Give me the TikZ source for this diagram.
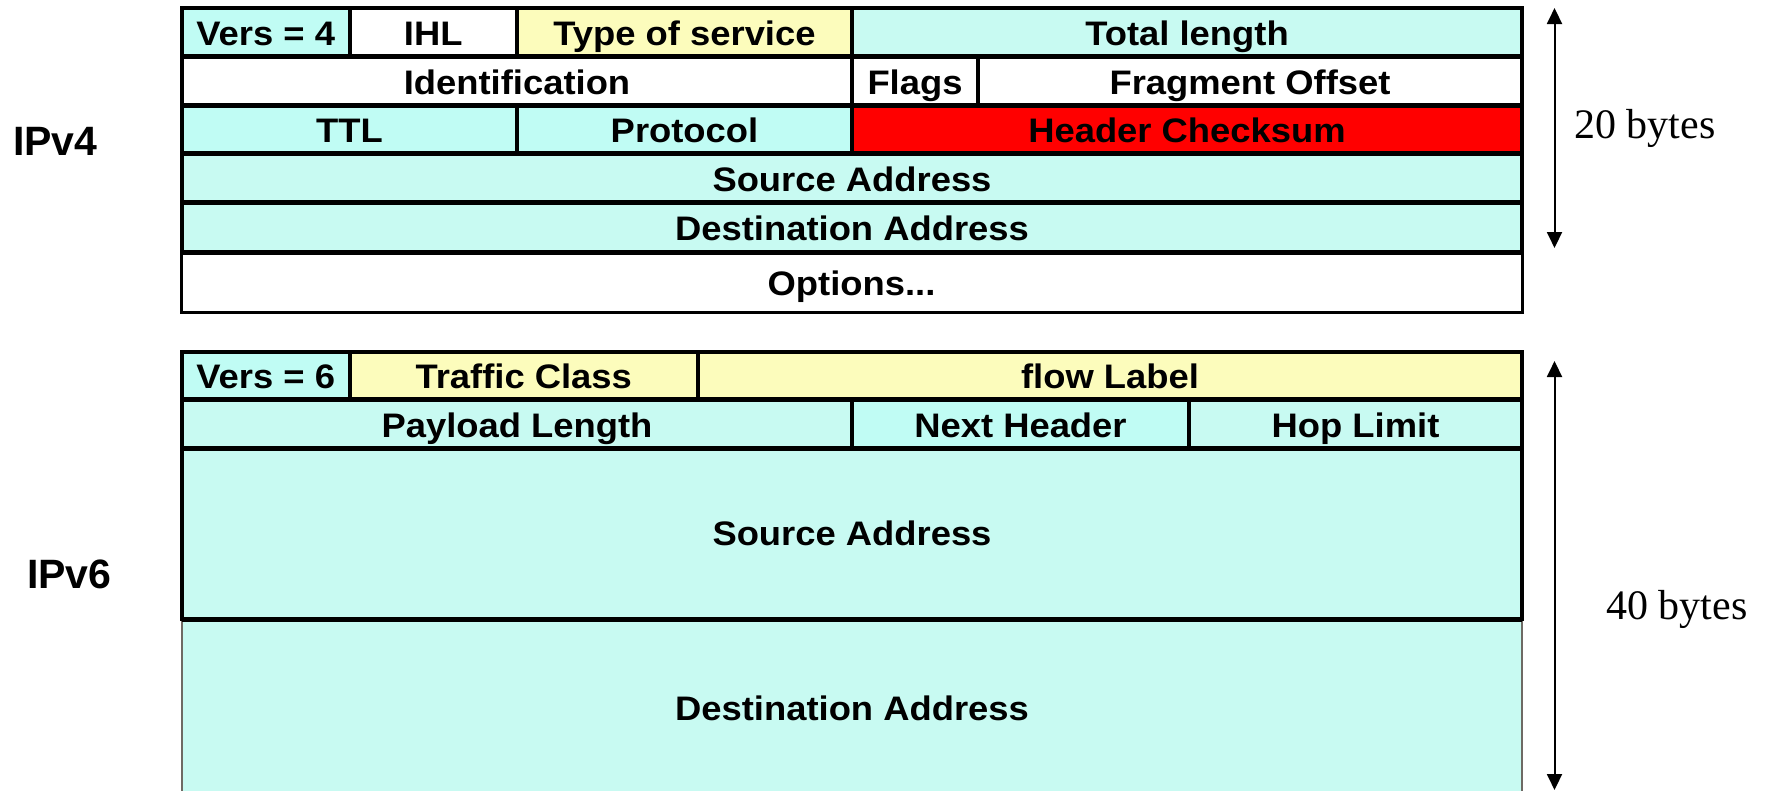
\documentclass[tikz,border=0pt]{standalone}
\usepackage{fontspec}
\setmainfont{Liberation Sans}
\newfontfamily\timesfont{Liberation Serif}
\usetikzlibrary{arrows.meta}

\definecolor{cellcyan}{HTML}{C0FCF4}
\definecolor{cellaqua}{HTML}{C8FAF2}
\definecolor{cellyellow}{HTML}{FCFCBC}
\definecolor{cellred}{HTML}{FF0000}
\definecolor{rimgray}{HTML}{6E6A64}

% header field labels are set slightly wider than the plain bold face
\newcommand\widetext[1]{\scalebox{1.07}[1]{#1}}

% \field{options}{name}{x1}{y1}{x2}{y2}{fill}{text}
\newcommand\field[8]{%
  \pgfmathsetlengthmacro\fieldw{(#5)-(#3)}%
  \pgfmathsetlengthmacro\fieldh{(#6)-(#4)}%
  \node[fieldcell,fill=#7,minimum width=\fieldw,minimum height=\fieldh,#1]
    (#2) at ({((#3)+(#5))/2},{((#4)+(#6))/2}) {\widetext{#8}};}

\begin{document}
\begin{tikzpicture}[x=1pt,y=-1pt,
  fieldcell/.style={draw=black,line width=4pt,inner sep=0pt,outer sep=0pt,
    font=\fontsize{34}{38}\selectfont\bfseries,text height=27pt,text depth=0pt},
  rowrule/.style={draw=black,line width=5pt},
  sidelabel/.style={anchor=base west,inner sep=0pt,font=\fontsize{41}{44}\selectfont\bfseries},
  sizelabel/.style={anchor=base west,inner sep=0pt,font=\timesfont\fontsize{42}{46}\selectfont},
  sizearrow/.style={{Triangle[length=16pt,width=15pt]}-{Triangle[length=16pt,width=15pt]},line width=2pt}]

\useasboundingbox (0,0) rectangle (1768,790);
\clip (0,0) rectangle (1768,790);

% ---------------- IPv4 header ----------------
\field{}{v4ver}{182}{8}{349.5}{56}{cellcyan}{Vers = 4}
\field{}{v4ihl}{349.5}{8}{517}{56}{white}{IHL}
\field{}{v4tos}{517}{8}{852}{56}{cellyellow}{Type of service}
\field{}{v4len}{852}{8}{1522}{56}{cellaqua}{Total length}

\field{}{v4id}{182}{56}{852}{105}{white}{Identification}
\field{}{v4flags}{852}{56}{978}{105}{white}{Flags}
\field{}{v4frag}{978}{56}{1522}{105}{white}{Fragment Offset}

\field{}{v4ttl}{182}{105}{517}{153.5}{cellcyan}{TTL}
\field{}{v4proto}{517}{105}{852}{153.5}{cellcyan}{Protocol}
\field{}{v4csum}{852}{105}{1522}{153.5}{cellred}{Header Checksum}

\field{}{v4src}{182}{153.5}{1522}{202}{cellaqua}{Source Address}
\field{}{v4dst}{182}{202}{1522}{252}{cellaqua}{Destination Address}
\field{line width=3pt,text height=26pt}{v4opt}{181}{252}{1522}{312}{white}{Options...}

% heavier rules between the rows
\draw[rowrule] (v4ver.south west) -- (v4len.south east);
\draw[rowrule] (v4id.south west) -- (v4frag.south east);
\draw[rowrule] (v4ttl.south west) -- (v4csum.south east);
\draw[rowrule] (v4src.south west) -- (v4src.south east);
\draw[rowrule] (v4dst.south west) -- (v4dst.south east);

\node[sidelabel] (lblv4) at (13,155) {IPv4};

\coordinate (v4top) at (1554.5,8);
\coordinate (v4bot) at (1554.5,248);
\draw[sizearrow] (v4top) -- (v4bot);
\node[sizelabel] (size20) at (1574,138) {20 bytes};

% ---------------- IPv6 header ----------------
\field{draw=rimgray,line width=2.5pt}{v6dst}{182}{619}{1522}{810}{cellaqua}{}
\node[font=\fontsize{34}{38}\selectfont\bfseries,text height=24.3pt,text depth=0pt,inner sep=0pt]
  (v6dsttext) at (852,708) {\widetext{Destination Address}};

\field{}{v6ver}{182}{351.5}{349.5}{399}{cellcyan}{Vers = 6}
\field{}{v6tc}{349.5}{351.5}{698}{399}{cellyellow}{Traffic Class}
\field{}{v6flow}{698}{351.5}{1522}{399}{cellyellow}{flow Label}

\field{}{v6plen}{182}{399}{852}{448}{cellaqua}{Payload Length}
\field{}{v6next}{852}{399}{1189}{448}{cellcyan}{Next Header}
\field{}{v6hop}{1189}{399}{1522}{448}{cellaqua}{Hop Limit}

\field{text height=24.3pt}{v6src}{182}{448}{1522}{619}{cellaqua}{Source Address}

\draw[rowrule] (v6ver.south west) -- (v6flow.south east);
\draw[rowrule] (v6plen.south west) -- (v6hop.south east);
\draw[rowrule] (v6src.south west) -- (v6src.south east);

\node[sidelabel] (lblv6) at (27,588) {IPv6};

\coordinate (v6top) at (1554.5,361);
\coordinate (v6bot) at (1554.5,790);
\draw[sizearrow] (v6top) -- (v6bot);
\node[sizelabel] (size40) at (1606,619) {40 bytes};

\end{tikzpicture}
\end{document}
